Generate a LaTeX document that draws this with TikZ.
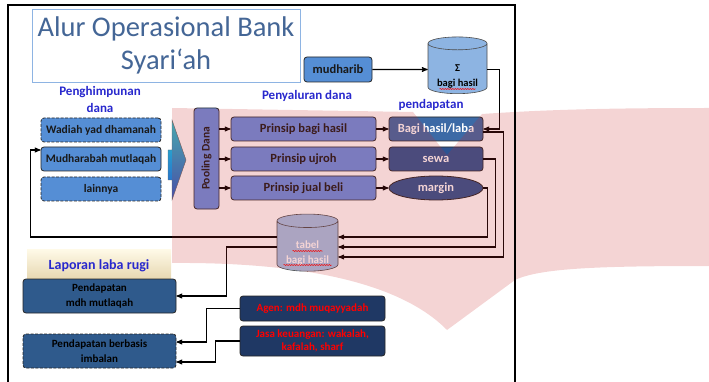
\documentclass[tikz,border=0pt]{standalone}
\usepackage{fontspec}
\setmainfont{Carlito}
\usepackage{tikz}
\usetikzlibrary{arrows}
\usetikzlibrary{shapes.geometric}
\usetikzlibrary{decorations.pathmorphing}

\definecolor{titleblue}{RGB}{68,102,150}
\definecolor{titleline}{RGB}{142,180,227}
\definecolor{capblue}{RGB}{40,40,205}
\definecolor{midblue}{RGB}{85,142,213}
\definecolor{lightblue}{RGB}{141,180,226}
\definecolor{poolblue}{RGB}{104,144,228}
\definecolor{labablue}{RGB}{60,106,166}
\definecolor{deepblue}{RGB}{44,84,146}
\definecolor{steelblue}{RGB}{47,90,140}
\definecolor{navyblue}{RGB}{31,56,100}
\definecolor{arrteal}{RGB}{40,200,210}
\definecolor{arrblue}{RGB}{40,90,200}
\definecolor{wmark}{RGB}{200,40,40}
\definecolor{creamtop}{RGB}{255,250,232}
\definecolor{creambot}{RGB}{228,212,172}

\tikzset{box/.style={ % Rounded box for every step
draw=black!85,
line width=0.8pt,
rounded corners=3pt,
inner sep=1pt,
align=center,
text=black!90,
font=\bfseries\fontsize{11.5}{12}\selectfont},
dashedbox/.style={box, dash pattern=on 3pt off 1.5pt}, % Dashed border
drum/.style={ % Cylinders for the tables
cylinder,
shape border rotate=90,
aspect=0.3,
draw=black!70,
line width=0.6pt,
align=center,
inner sep=1pt,
font=\bfseries\fontsize{10.5}{15}\selectfont},
heading/.style={ % Blue captions
font=\bfseries\fontsize{13}{17}\selectfont,
text=capblue,
align=center},
link/.style={ % Connectors
draw,
->,>=stealth',
line width=1.1pt},
wavy/.style={red, line width=0.5pt, decorate,
decoration={snake, amplitude=0.6pt, segment length=2.5pt}}}

\newcommand{\lowtext}{\rule{0pt}{20pt}} % pushes the text of a cylinder down

\begin{document}
\begin{tikzpicture}[x=1pt, y=-1pt]
\useasboundingbox (0,0) rectangle (709,382);

\node[draw=titleline, fill=white, line width=0.8pt, minimum width=268pt, minimum height=73pt,
      align=center, text=titleblue, font=\fontsize{28.5}{33}\selectfont] (title) at (166,45.5) {Alur Operasional Bank\\Syari‘ah};

\node[box, fill=midblue, minimum width=68pt, minimum height=25pt, font=\bfseries\fontsize{12.5}{13}\selectfont] (mudharib) at (338,69.5) {mudharib};
\node[drum, fill=lightblue, minimum width=59pt, minimum height=55pt] (sigma) at (457.5,69.5) {\lowtext Σ\\bagi hasil};

\node[heading] (himpun) at (100,99.5) {Penghimpunan\\dana};
\node[heading] (salur) at (307,96) {Penyaluran dana};
\node[heading] (dapat) at (431,105) {pendapatan};

\node[dashedbox, fill=midblue, minimum width=120pt, minimum height=24pt] (wadiah) at (101,130) {Wadiah yad dhamanah};
\node[box, fill=midblue, minimum width=120pt, minimum height=24pt] (mudharabah) at (101,159) {Mudharabah mutlaqah};
\node[dashedbox, fill=midblue, minimum width=120pt, minimum height=24pt] (lainnya) at (101,189) {lainnya};

\shade[top color=arrteal, bottom color=arrblue, draw=black!60, line width=0.4pt]
  (172,120) -- (186,160) -- (172,200) -- (172,180) -- (168,180) -- (168,150) -- (172,150) -- cycle;

\node[box, fill=poolblue, minimum width=25pt, minimum height=101pt] (pooling) at (206.5,158.5) {\rotatebox{90}{Pooling Dana}};

\node[box, fill=poolblue, minimum width=145pt, minimum height=24pt, font=\bfseries\fontsize{12.5}{13}\selectfont] (p1) at (303.5,129) {Prinsip bagi hasil};
\node[box, fill=poolblue, minimum width=145pt, minimum height=24pt, font=\bfseries\fontsize{12.5}{13}\selectfont] (p2) at (303.5,159) {Prinsip ujroh};
\node[box, fill=poolblue, minimum width=145pt, minimum height=24pt, font=\bfseries\fontsize{12.5}{13}\selectfont] (p3) at (303.5,188) {Prinsip jual beli};

\node[box, fill=labablue, text=white, minimum width=94pt, minimum height=24pt, font=\bfseries\fontsize{12.5}{13}\selectfont] (laba) at (436,129) {Bagi hasil/laba};
\node[box, fill=deepblue, text=white, minimum width=94pt, minimum height=24pt, font=\bfseries\fontsize{12.5}{13}\selectfont] (sewa) at (436,159) {sewa};
\node[box, ellipse, fill=deepblue, text=white, minimum width=94pt, minimum height=24pt, font=\bfseries\fontsize{12.5}{13}\selectfont] (margin) at (436,188) {margin};

\node[drum, fill=lightblue!80!white, text=white, minimum width=61pt, minimum height=56pt,
      font=\bfseries\fontsize{11}{14.5}\selectfont] (tabel) at (307.5,247) {\lowtext tabel\\bagi hasil};

\node[heading, top color=creamtop, bottom color=creambot, minimum width=144pt, minimum height=33pt,
      font=\bfseries\fontsize{14}{16}\selectfont] (laporan) at (99,265.5) {Laporan laba rugi};
\node[box, fill=steelblue, text=black, minimum width=153pt, minimum height=34pt,
      font=\bfseries\fontsize{11}{15}\selectfont] (mdhmut) at (99.5,296) {Pendapatan\\mdh mutlaqah};
\node[dashedbox, fill=steelblue, text=black, minimum width=153pt, minimum height=34pt,
      font=\bfseries\fontsize{11}{15}\selectfont] (imbalan) at (99.5,351) {Pendapatan berbasis\\imbalan};

\node[box, fill=navyblue, text=red, minimum width=145pt, minimum height=25pt,
      font=\bfseries\fontsize{11}{12}\selectfont] (agen) at (312.5,308.5) {Agen: mdh muqayyadah};
\node[box, fill=navyblue, text=red, minimum width=145pt, minimum height=30pt,
      font=\bfseries\fontsize{11}{13.5}\selectfont] (jasa) at (312.5,341) {Jasa keuangan: wakalah,\\kafalah, sharf};

% spelling marks under the table names
\draw[wavy] ([xshift=-18pt,yshift=-19.5pt]sigma.center) -- ++(36,0);
\draw[wavy] ([xshift=-15pt,yshift=-4pt]tabel.center) -- ++(30,0);
\draw[wavy] ([xshift=-24pt,yshift=-18pt]tabel.center) -- ++(48,0);

\draw[link] (mudharib) -- (sigma);
\draw[link] (sigma.east) -- ++(12,0) |- (laba.east);
\draw[link] (pooling.east |- p1) -- (p1);
\draw[link] (pooling.east |- p2) -- (p2);
\draw[link] (pooling.east |- p3) -- (p3);
\draw (p1) edge[link] (laba);
\draw (p2) edge[link] (sewa);
\draw (p3) edge[link] (margin);
\draw[link] ([yshift=-3pt]laba.east) -- ++(20,0) |- ([yshift=-10pt]tabel.east);
\draw[link] (sewa.east) -- ++(12,0) |- (tabel.east);
\draw[link] (margin.east) -- ++(4,0) |- ([yshift=10pt]tabel.east);
\draw[link] ([yshift=10pt]tabel.west) -| ([xshift=-10pt,yshift=9pt]mudharabah.west) -- ([yshift=9pt]mudharabah.west);
\draw[link] (tabel.west) -- ++(-50,0) |- (mdhmut.east);
\draw[link] (agen.west) -- ++(-33,0) |- ([yshift=9pt]imbalan.east);
\draw[link] (jasa.west) -- ++(-24,0) |- ([yshift=-11pt]imbalan.east);

% watermark laid over the chart
\fill[wmark, fill opacity=0.2] (172,108) -- (413,112) -- (447,155) -- (482,114)
  .. controls (540,110) and (600,108) .. (709,108) -- (709,266)
  .. controls (600,266) and (540,268) .. (515,280) -- (447,330)
  .. controls (400,282) and (300,262) .. (172,263) -- cycle;

\draw[line width=1.6pt] (8,382) -- (8,5) -- (515,5) -- (515,382);
\end{tikzpicture}
\end{document}
